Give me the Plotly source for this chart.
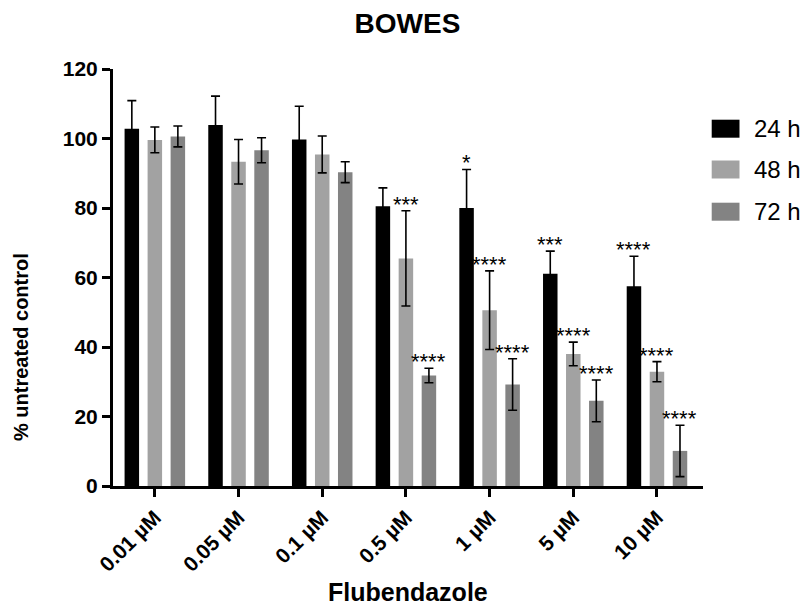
import plotly.graph_objects as go

# ---------------- data ----------------
categories = ["0.01 µM", "0.05 µM", "0.1 µM", "0.5 µM", "1 µM", "5 µM", "10 µM"]
series_names = ["24 h", "48 h", "72 h"]
h24 = [102.8, 103.9, 99.7, 80.5, 80.0, 61.1, 57.5]
e24 = [8.1, 8.3, 9.6, 5.3, 11.1, 6.5, 8.6]
h48 = [99.6, 93.3, 95.4, 65.5, 50.6, 38.0, 32.9]
e48 = [3.7, 6.4, 5.3, 13.7, 11.3, 3.4, 2.9]
h72 = [100.6, 96.6, 90.3, 31.8, 29.2, 24.5, 10.1]
e72 = [3.0, 3.6, 3.0, 2.1, 7.4, 6.0, 7.4]
sig24 = ["", "", "", "", "*", "***", "****"]
sig48 = ["", "", "", "***", "****", "****", "****"]
sig72 = ["", "", "", "****", "****", "****", "****"]
y_ticks = [0, 20, 40, 60, 80, 100, 120]

# ---------------- style ----------------
colors = ["#000000", "#a2a2a2", "#838383"]
FONT = "Liberation Sans, Arial, sans-serif"
W, H = 805, 616
ML, MR, MT, MB = 113, 102, 69, 130
BARGAP, GROUPGAP = 0.175, 0.37

values = [h24, h48, h72]
errors = [e24, e48, e72]
sigs = [sig24, sig48, sig72]

fig = go.Figure()
for name, v, e, c in zip(series_names, values, errors, colors):
    fig.add_trace(go.Bar(
        name=name, x=list(range(len(categories))), y=v, marker_color=c,
        marker_line_width=0, showlegend=False,
        error_y=dict(type="data", array=e, visible=True, color="black",
                     thickness=1.6, width=4.5),
    ))

# significance stars above error bars
n = len(series_names)
slot = (1 - BARGAP) / n
annotations = []
for j, (v, e, s) in enumerate(zip(values, errors, sigs)):
    for i in range(len(categories)):
        if s[i]:
            annotations.append(dict(
                x=i + (j - (n - 1) / 2) * slot, y=v[i] + e[i], xref="x", yref="y",
                text=s[i], showarrow=False, xanchor="center", yanchor="bottom",
                yshift=-8, font=dict(family=FONT, size=22, color="black")))

pw = W - ML - MR
ph = H - MT - MB


def px_x(p):
    return (p - ML) / pw


def px_y(p):
    return (H - MB - p) / ph


# axis titles
annotations.append(dict(x=px_x(407.5), y=px_y(592), xref="paper", yref="paper",
                        text="Flubendazole", showarrow=False, xanchor="center",
                        yanchor="middle",
                        font=dict(family=FONT, size=25, color="black", weight="bold")))
annotations.append(dict(x=px_x(21), y=px_y(347), xref="paper", yref="paper",
                        text="% untreated control", showarrow=False, textangle=-90,
                        xanchor="center", yanchor="middle",
                        font=dict(family=FONT, size=20, color="black", weight="bold")))

# legend
legend_rows = [128.7, 169.5, 211.7]
shapes = []
for name, c, yc in zip(series_names, colors, legend_rows):
    shapes.append(dict(type="rect", xref="paper", yref="paper",
                       x0=px_x(711.7), x1=px_x(739.5), y0=px_y(yc - 9), y1=px_y(yc + 9),
                       fillcolor=c, line=dict(width=0)))
    annotations.append(dict(x=px_x(752), y=px_y(yc), xref="paper", yref="paper",
                            text=name, showarrow=False, xanchor="left", yanchor="middle",
                            font=dict(family=FONT, size=24, color="black")))

fig.update_layout(
    width=W, height=H,
    margin=dict(l=ML, r=MR, t=MT, b=MB, pad=0),
    paper_bgcolor="white", plot_bgcolor="white",
    barmode="group", bargap=BARGAP, bargroupgap=GROUPGAP,
    title=dict(text="BOWES", x=407.5 / W, xanchor="center", y=1 - 23 / H,
               yanchor="middle",
               font=dict(family=FONT, size=28, color="black", weight="bold")),
    xaxis=dict(
        range=[-0.5, 6.55], tickmode="array", tickvals=list(range(len(categories))),
        ticktext=categories, tickangle=-45, showline=True, linewidth=3,
        linecolor="black", ticks="outside", ticklen=8, tickwidth=3,
        tickcolor="black", showgrid=False, zeroline=False,
        tickfont=dict(family=FONT, size=21, color="black", weight="bold")),
    yaxis=dict(
        range=[0, 120], tickvals=y_ticks, showline=True, linewidth=3,
        linecolor="black", ticks="outside", ticklen=8, tickwidth=3,
        tickcolor="black", showgrid=False, zeroline=False,
        tickfont=dict(family=FONT, size=21, color="black", weight="bold")),
    annotations=annotations, shapes=shapes,
)

fig.write_html("out.html")
